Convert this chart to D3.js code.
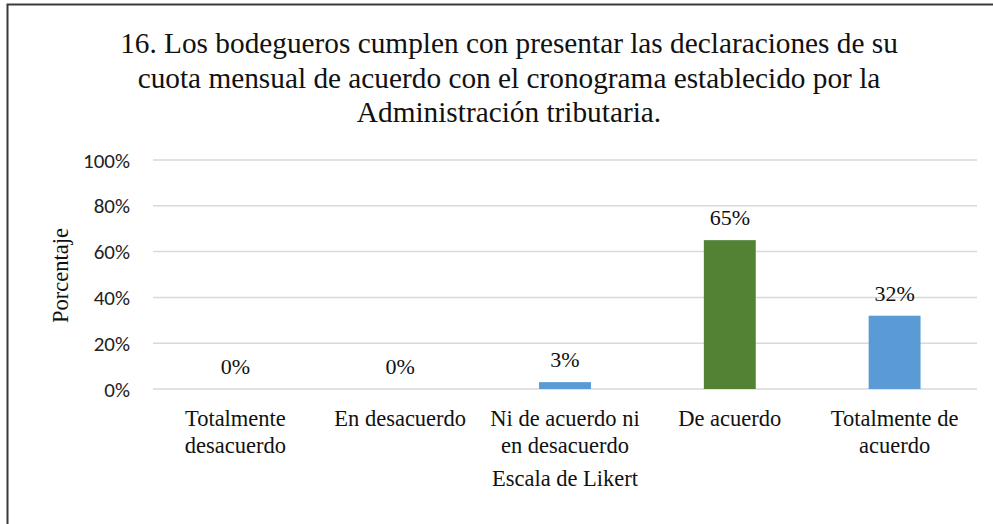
<!DOCTYPE html>
<html>
<head>
<meta charset="utf-8">
<script src="https://cdn.jsdelivr.net/npm/d3@7"></script>
<style>
  html, body { margin: 0; padding: 0; background: #fff; }
  svg { display: block; }
</style>
</head>
<body>
<svg id="chart" width="993" height="524"></svg>
<script>
const titleLines = [
  "16. Los bodegueros cumplen con presentar las declaraciones de su",
  "cuota mensual de acuerdo con el cronograma establecido por la",
  "Administración tributaria."
];
const categories = [
  "Totalmente\ndesacuerdo",
  "En desacuerdo",
  "Ni de acuerdo ni\nen desacuerdo",
  "De acuerdo",
  "Totalmente de\nacuerdo"
];
const values = [0, 0, 3, 65, 32];
const barColors = ["#5B9BD5", "#5B9BD5", "#5B9BD5", "#548235", "#5B9BD5"];
const yTicks = [0, 20, 40, 60, 80, 100];
const yAxisTitle = "Porcentaje";
const xAxisTitle = "Escala de Likert";

const svg = d3.select("#chart");
const serifFont = "Liberation Serif";
const sansFont = "Carlito";

// chart border (runs off right and bottom)
svg.append("rect")
  .attr("x", 7.5).attr("y", 4.5)
  .attr("width", 1100).attr("height", 600)
  .attr("fill", "none").attr("stroke", "#3a3a3a").attr("stroke-width", 2);

const plot = { left: 153, right: 977, top: 160, bottom: 389 };

const x = d3.scaleBand().domain(categories).range([plot.left, plot.right]).paddingInner(0.685).paddingOuter(0.3425);
const y = d3.scaleLinear().domain([0, 100]).range([plot.bottom, plot.top]);

// gridlines
svg.append("g").selectAll("line").data(yTicks).join("line")
  .attr("x1", plot.left).attr("x2", plot.right)
  .attr("y1", d => y(d)).attr("y2", d => y(d))
  .attr("stroke", "#d9d9d9").attr("stroke-width", 1.5);

// y axis tick labels
const yAxis = d3.axisLeft(y).tickValues(yTicks).tickFormat(d => d + "%").tickSize(0).tickPadding(0);
const yg = svg.append("g").attr("transform", `translate(${plot.left - 23},0)`).call(yAxis);
yg.select(".domain").remove();
yg.selectAll("text").style("font-family", sansFont).style("font-size", "21px").attr("fill", "#222").attr("dy", "0.34em");

// bars
svg.append("g").selectAll("rect").data(values).join("rect")
  .attr("x", (d, i) => x(categories[i]))
  .attr("y", d => y(d))
  .attr("width", x.bandwidth())
  .attr("height", d => y(0) - y(d))
  .attr("fill", (d, i) => barColors[i]);

// data labels
svg.append("g").selectAll("text").data(values).join("text")
  .attr("x", (d, i) => x(categories[i]) + x.bandwidth() / 2)
  .attr("y", d => y(d) - 15)
  .attr("text-anchor", "middle")
  .style("font-family", serifFont).style("font-size", "22px").attr("fill", "#111")
  .text(d => d + "%");

// category labels
const xg = svg.append("g");
categories.forEach(c => {
  const cx = x(c) + x.bandwidth() / 2;
  const t = xg.append("text")
    .attr("x", cx)
    .attr("y", 426)
    .attr("text-anchor", "middle")
    .style("font-family", serifFont).style("font-size", "22.5px").attr("fill", "#111");
  c.split("\n").forEach((line, j) => {
    t.append("tspan").attr("x", cx).attr("dy", j === 0 ? 0 : 27).text(line);
  });
});

// axis titles
svg.append("text")
  .attr("x", (plot.left + plot.right) / 2).attr("y", 486)
  .attr("text-anchor", "middle")
  .style("font-family", serifFont).style("font-size", "22.5px").attr("fill", "#111")
  .text(xAxisTitle);

svg.append("text")
  .attr("transform", `translate(68,${(plot.top + plot.bottom) / 2 + 1}) rotate(-90)`)
  .attr("text-anchor", "middle")
  .style("font-family", serifFont).style("font-size", "22.5px").attr("fill", "#111")
  .text(yAxisTitle);

// title
const title = svg.append("text")
  .attr("text-anchor", "middle")
  .style("font-family", serifFont).style("font-size", "29.3px").attr("fill", "#111");
titleLines.forEach((line, i) => {
  title.append("tspan").attr("x", 509).attr("y", 53.3 + i * 34.2).text(line);
});
</script>
</body>
</html>
